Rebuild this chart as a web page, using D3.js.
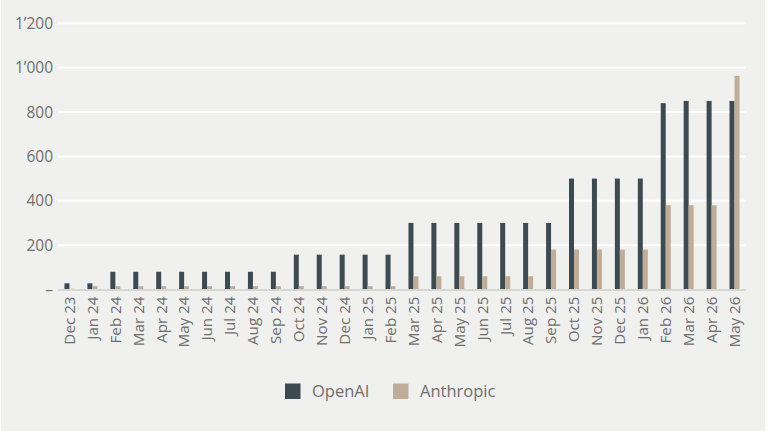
<!DOCTYPE html>
<html><head><meta charset="utf-8">
<script src="https://cdn.jsdelivr.net/npm/d3@7"></script>
<style>
html,body{margin:0;padding:0;background:#ffffff;}
svg{display:block;}
</style></head>
<body>
<svg id="chart" width="768" height="431"></svg>
<script>
const categories = ["Dec 23","Jan 24","Feb 24","Mar 24","Apr 24","May 24","Jun 24","Jul 24","Aug 24","Sep 24","Oct 24","Nov 24","Dec 24","Jan 25","Feb 25","Mar 25","Apr 25","May 25","Jun 25","Jul 25","Aug 25","Sep 25","Oct 25","Nov 25","Dec 25","Jan 26","Feb 26","Mar 26","Apr 26","May 26"];
const seriesNames = ["OpenAI","Anthropic"];
const openai = [28,28,80,80,80,80,80,80,80,80,157,157,157,157,157,300,300,300,300,300,300,300,500,500,500,500,840,850,850,850];
const anthropic = [3,15,15,15,15,15,15,15,15,15,15,15,15,15,15,60,60,60,60,60,60,180,180,180,180,180,380,380,380,963];
const yTicks = [0,200,400,600,800,1000,1200];
const colors = ["#3d4a50","#bfad99"];

const svg = d3.select("#chart");
svg.append("rect").attr("x",1).attr("y",0).attr("width",764).attr("height",431).attr("fill","#f0f0ee");

const mLeft = 58, mRight = 746, mTop = 23.3, mBottom = 289.5;
const y = d3.scaleLinear().domain([0,1200]).range([mBottom, mTop]);
const x0 = d3.scaleBand().domain(categories).range([mLeft,mRight]).paddingInner(0.564).paddingOuter(0.282);
const x1 = d3.scaleBand().domain(seriesNames).range([0, x0.bandwidth()]);

const font = "'Open Sans', 'Noto Sans', sans-serif";
const txt = "#6e6e6e";

// y axis labels
const yAxis = d3.axisLeft(y).tickValues(yTicks).tickSize(0).tickPadding(6)
  .tickFormat(d => d === 0 ? "–" : d3.format(",")(d).replace(",", "’"));
const gy = svg.append("g").attr("transform", `translate(${mLeft},0)`).call(yAxis);
gy.select(".domain").remove();
gy.selectAll("text").attr("font-family", font).attr("font-size", 15.5).attr("fill", txt).attr("x",-5);

// gridlines
svg.append("g").selectAll("line").data(yTicks.filter(d => d > 0)).join("line")
  .attr("x1", mLeft).attr("x2", mRight).attr("y1", d => y(d)).attr("y2", d => y(d))
  .attr("stroke", "#ffffff").attr("stroke-width", 2);

// bars
const data = categories.map((c,i) => ({cat:c, vals:[{s:"OpenAI",v:openai[i]},{s:"Anthropic",v:anthropic[i]}]}));
const groups = svg.append("g").selectAll("g").data(data).join("g")
  .attr("transform", d => `translate(${x0(d.cat)},0)`);
groups.selectAll("rect").data(d => d.vals).join("rect")
  .attr("x", d => x1(d.s)).attr("width", x1.bandwidth())
  .attr("y", d => y(d.v)).attr("height", d => y(0) - y(d.v))
  .attr("fill", (d,i) => colors[i]);

// baseline
svg.append("line").attr("x1", mLeft).attr("x2", mRight).attr("y1", mBottom+0.5).attr("y2", mBottom+0.5)
  .attr("stroke", "#d6d6d2").attr("stroke-width", 2);

// x axis
const xAxis = d3.axisBottom(x0).tickSize(0).tickPadding(0);
const gx = svg.append("g").attr("transform", `translate(0,${mBottom})`).call(xAxis);
gx.select(".domain").remove();
gx.selectAll("text").attr("font-family", font).attr("font-size", 15.2).attr("fill", txt)
  .attr("transform", "rotate(-90)").attr("text-anchor", "end")
  .attr("x", -7).attr("y", 0).attr("dy", "0.35em").attr("dx", 0);

// legend
const legend = svg.append("g");
const legItems = [{name:"OpenAI", x:285}, {name:"Anthropic", x:393}];
legItems.forEach((it,i) => {
  legend.append("rect").attr("x", it.x).attr("y", 383.5).attr("width", 15.5).attr("height", 15.5).attr("fill", colors[i]);
  legend.append("text").attr("x", it.x + 27).attr("y", 391.5).attr("dy","0.35em")
    .attr("font-family", font).attr("font-size", 16.5).attr("fill", txt).text(it.name);
});
</script>
</body></html>
